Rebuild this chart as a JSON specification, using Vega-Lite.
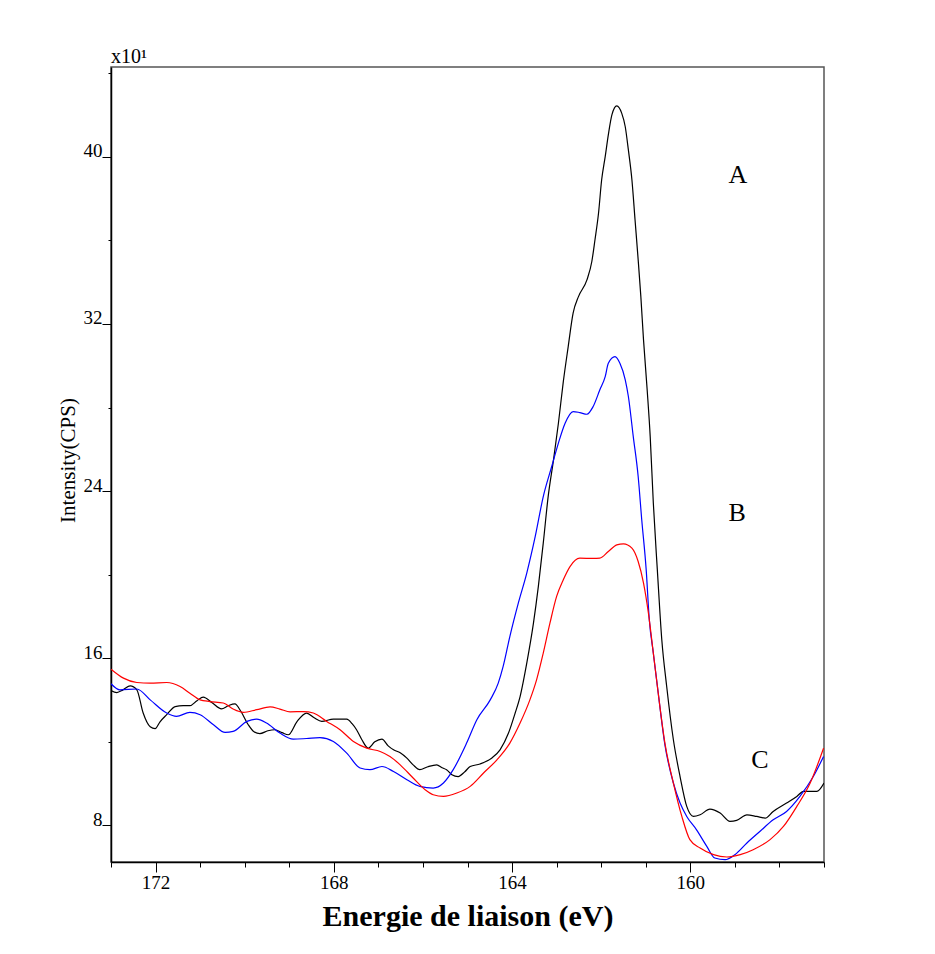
{
  "$schema": "https://vega.github.io/schema/vega-lite/v6.json",
  "autosize": {"type": "none"},
  "padding": {"left": 111, "top": 67, "right": 111, "bottom": 92},
  "width": 713,
  "height": 795,
  "background": "white",
  "title": {"text": "x10¹", "anchor": "start", "frame": "group", "font": "Liberation Serif", "fontSize": 20, "fontWeight": "normal", "color": "black", "offset": 1, "dy": 30, "baseline": "bottom"},
  "config": {
    "view": {"stroke": "#555555", "strokeWidth": 1.5},
    "axis": {"grid": false, "domainColor": "black", "domainWidth": 1.5, "tickColor": "black", "labelColor": "black", "titleColor": "black"}
  },
  "datasets": {
    "curves": [
      {"s": "A", "e": 173.00, "v": 14.46}, {"s": "A", "e": 172.87, "v": 14.36}, {"s": "A", "e": 172.73, "v": 14.49}, {"s": "A", "e": 172.57, "v": 14.68}, {"s": "A", "e": 172.42, "v": 14.49}, {"s": "A", "e": 172.28, "v": 13.39}, {"s": "A", "e": 172.12, "v": 12.72}, {"s": "A", "e": 172.01, "v": 12.63}, {"s": "A", "e": 171.90, "v": 12.96}, {"s": "A", "e": 171.75, "v": 13.30}, {"s": "A", "e": 171.56, "v": 13.69}, {"s": "A", "e": 171.38, "v": 13.73}, {"s": "A", "e": 171.23, "v": 13.73}, {"s": "A", "e": 171.07, "v": 13.97}, {"s": "A", "e": 170.93, "v": 14.14}, {"s": "A", "e": 170.73, "v": 13.87}, {"s": "A", "e": 170.52, "v": 13.58}, {"s": "A", "e": 170.37, "v": 13.73}, {"s": "A", "e": 170.22, "v": 13.82}, {"s": "A", "e": 170.08, "v": 13.44}, {"s": "A", "e": 169.92, "v": 12.82}, {"s": "A", "e": 169.79, "v": 12.48}, {"s": "A", "e": 169.66, "v": 12.39}, {"s": "A", "e": 169.48, "v": 12.53}, {"s": "A", "e": 169.32, "v": 12.58}, {"s": "A", "e": 169.16, "v": 12.44}, {"s": "A", "e": 169.02, "v": 12.34}, {"s": "A", "e": 168.83, "v": 12.96}, {"s": "A", "e": 168.61, "v": 13.38}, {"s": "A", "e": 168.44, "v": 13.15}, {"s": "A", "e": 168.27, "v": 12.98}, {"s": "A", "e": 168.01, "v": 13.09}, {"s": "A", "e": 167.71, "v": 13.09}, {"s": "A", "e": 167.59, "v": 12.87}, {"s": "A", "e": 167.49, "v": 12.58}, {"s": "A", "e": 167.37, "v": 12.10}, {"s": "A", "e": 167.23, "v": 11.70}, {"s": "A", "e": 167.08, "v": 12.00}, {"s": "A", "e": 166.92, "v": 12.13}, {"s": "A", "e": 166.78, "v": 11.81}, {"s": "A", "e": 166.66, "v": 11.62}, {"s": "A", "e": 166.51, "v": 11.48}, {"s": "A", "e": 166.36, "v": 11.22}, {"s": "A", "e": 166.22, "v": 10.90}, {"s": "A", "e": 166.07, "v": 10.67}, {"s": "A", "e": 165.89, "v": 10.81}, {"s": "A", "e": 165.69, "v": 10.90}, {"s": "A", "e": 165.57, "v": 10.76}, {"s": "A", "e": 165.47, "v": 10.67}, {"s": "A", "e": 165.35, "v": 10.43}, {"s": "A", "e": 165.21, "v": 10.34}, {"s": "A", "e": 165.06, "v": 10.57}, {"s": "A", "e": 164.94, "v": 10.82}, {"s": "A", "e": 164.72, "v": 10.94}, {"s": "A", "e": 164.46, "v": 11.22}, {"s": "A", "e": 164.27, "v": 11.62}, {"s": "A", "e": 164.08, "v": 12.42}, {"s": "A", "e": 163.93, "v": 13.38}, {"s": "A", "e": 163.82, "v": 14.17}, {"s": "A", "e": 163.67, "v": 15.77}, {"s": "A", "e": 163.52, "v": 17.68}, {"s": "A", "e": 163.41, "v": 19.44}, {"s": "A", "e": 163.30, "v": 21.51}, {"s": "A", "e": 163.19, "v": 23.74}, {"s": "A", "e": 163.07, "v": 25.50}, {"s": "A", "e": 162.96, "v": 27.25}, {"s": "A", "e": 162.85, "v": 29.24}, {"s": "A", "e": 162.74, "v": 30.92}, {"s": "A", "e": 162.63, "v": 32.52}, {"s": "A", "e": 162.51, "v": 33.31}, {"s": "A", "e": 162.32, "v": 34.11}, {"s": "A", "e": 162.21, "v": 34.99}, {"s": "A", "e": 162.14, "v": 36.02}, {"s": "A", "e": 162.06, "v": 37.30}, {"s": "A", "e": 161.99, "v": 38.89}, {"s": "A", "e": 161.91, "v": 40.01}, {"s": "A", "e": 161.84, "v": 41.05}, {"s": "A", "e": 161.76, "v": 42.01}, {"s": "A", "e": 161.65, "v": 42.44}, {"s": "A", "e": 161.54, "v": 42.09}, {"s": "A", "e": 161.46, "v": 41.44}, {"s": "A", "e": 161.39, "v": 40.33}, {"s": "A", "e": 161.31, "v": 38.89}, {"s": "A", "e": 161.24, "v": 36.98}, {"s": "A", "e": 161.17, "v": 35.07}, {"s": "A", "e": 161.11, "v": 33.31}, {"s": "A", "e": 161.05, "v": 31.24}, {"s": "A", "e": 160.97, "v": 28.90}, {"s": "A", "e": 160.90, "v": 26.61}, {"s": "A", "e": 160.83, "v": 23.43}, {"s": "A", "e": 160.74, "v": 20.23}, {"s": "A", "e": 160.64, "v": 16.89}, {"s": "A", "e": 160.53, "v": 14.65}, {"s": "A", "e": 160.38, "v": 12.10}, {"s": "A", "e": 160.23, "v": 10.34}, {"s": "A", "e": 160.08, "v": 8.91}, {"s": "A", "e": 159.93, "v": 8.43}, {"s": "A", "e": 159.78, "v": 8.51}, {"s": "A", "e": 159.56, "v": 8.78}, {"s": "A", "e": 159.33, "v": 8.59}, {"s": "A", "e": 159.11, "v": 8.19}, {"s": "A", "e": 158.96, "v": 8.24}, {"s": "A", "e": 158.73, "v": 8.51}, {"s": "A", "e": 158.51, "v": 8.43}, {"s": "A", "e": 158.32, "v": 8.35}, {"s": "A", "e": 158.14, "v": 8.67}, {"s": "A", "e": 157.84, "v": 9.07}, {"s": "A", "e": 157.61, "v": 9.39}, {"s": "A", "e": 157.46, "v": 9.63}, {"s": "A", "e": 157.16, "v": 9.63}, {"s": "A", "e": 157.00, "v": 10.03},
      {"s": "B", "e": 173.00, "v": 14.78}, {"s": "B", "e": 172.80, "v": 14.49}, {"s": "B", "e": 172.42, "v": 14.53}, {"s": "B", "e": 172.12, "v": 14.01}, {"s": "B", "e": 171.75, "v": 13.38}, {"s": "B", "e": 171.53, "v": 13.22}, {"s": "B", "e": 171.23, "v": 13.41}, {"s": "B", "e": 171.00, "v": 13.30}, {"s": "B", "e": 170.70, "v": 12.82}, {"s": "B", "e": 170.44, "v": 12.45}, {"s": "B", "e": 170.26, "v": 12.50}, {"s": "B", "e": 169.95, "v": 12.98}, {"s": "B", "e": 169.73, "v": 13.09}, {"s": "B", "e": 169.51, "v": 12.90}, {"s": "B", "e": 169.21, "v": 12.42}, {"s": "B", "e": 168.91, "v": 12.13}, {"s": "B", "e": 168.61, "v": 12.16}, {"s": "B", "e": 168.31, "v": 12.20}, {"s": "B", "e": 168.01, "v": 12.02}, {"s": "B", "e": 167.71, "v": 11.46}, {"s": "B", "e": 167.41, "v": 10.75}, {"s": "B", "e": 167.19, "v": 10.67}, {"s": "B", "e": 166.92, "v": 10.82}, {"s": "B", "e": 166.66, "v": 10.58}, {"s": "B", "e": 166.36, "v": 10.19}, {"s": "B", "e": 166.07, "v": 9.87}, {"s": "B", "e": 165.77, "v": 9.79}, {"s": "B", "e": 165.54, "v": 10.03}, {"s": "B", "e": 165.32, "v": 10.67}, {"s": "B", "e": 165.02, "v": 11.94}, {"s": "B", "e": 164.79, "v": 13.06}, {"s": "B", "e": 164.49, "v": 14.01}, {"s": "B", "e": 164.31, "v": 14.81}, {"s": "B", "e": 164.20, "v": 15.61}, {"s": "B", "e": 164.05, "v": 17.04}, {"s": "B", "e": 163.86, "v": 18.64}, {"s": "B", "e": 163.67, "v": 20.08}, {"s": "B", "e": 163.48, "v": 21.83}, {"s": "B", "e": 163.30, "v": 23.74}, {"s": "B", "e": 163.11, "v": 25.18}, {"s": "B", "e": 162.96, "v": 26.30}, {"s": "B", "e": 162.81, "v": 27.25}, {"s": "B", "e": 162.63, "v": 27.81}, {"s": "B", "e": 162.48, "v": 27.76}, {"s": "B", "e": 162.32, "v": 27.68}, {"s": "B", "e": 162.18, "v": 28.05}, {"s": "B", "e": 162.03, "v": 28.85}, {"s": "B", "e": 161.91, "v": 29.48}, {"s": "B", "e": 161.84, "v": 30.12}, {"s": "B", "e": 161.69, "v": 30.44}, {"s": "B", "e": 161.58, "v": 30.12}, {"s": "B", "e": 161.46, "v": 29.33}, {"s": "B", "e": 161.39, "v": 28.53}, {"s": "B", "e": 161.28, "v": 26.61}, {"s": "B", "e": 161.17, "v": 24.70}, {"s": "B", "e": 161.09, "v": 22.63}, {"s": "B", "e": 160.99, "v": 20.23}, {"s": "B", "e": 160.92, "v": 17.84}, {"s": "B", "e": 160.83, "v": 16.25}, {"s": "B", "e": 160.72, "v": 14.33}, {"s": "B", "e": 160.57, "v": 11.86}, {"s": "B", "e": 160.38, "v": 10.03}, {"s": "B", "e": 160.23, "v": 9.07}, {"s": "B", "e": 160.08, "v": 8.43}, {"s": "B", "e": 159.86, "v": 7.79}, {"s": "B", "e": 159.63, "v": 7.00}, {"s": "B", "e": 159.45, "v": 6.44}, {"s": "B", "e": 159.22, "v": 6.36}, {"s": "B", "e": 159.00, "v": 6.60}, {"s": "B", "e": 158.73, "v": 7.16}, {"s": "B", "e": 158.44, "v": 7.71}, {"s": "B", "e": 158.14, "v": 8.27}, {"s": "B", "e": 157.84, "v": 8.67}, {"s": "B", "e": 157.54, "v": 9.39}, {"s": "B", "e": 157.24, "v": 10.34}, {"s": "B", "e": 157.01, "v": 11.30},
      {"s": "C", "e": 173.00, "v": 15.48}, {"s": "C", "e": 172.72, "v": 15.05}, {"s": "C", "e": 172.42, "v": 14.84}, {"s": "C", "e": 172.12, "v": 14.81}, {"s": "C", "e": 171.75, "v": 14.84}, {"s": "C", "e": 171.45, "v": 14.65}, {"s": "C", "e": 171.23, "v": 14.33}, {"s": "C", "e": 171.00, "v": 14.01}, {"s": "C", "e": 170.78, "v": 13.93}, {"s": "C", "e": 170.48, "v": 13.86}, {"s": "C", "e": 170.26, "v": 13.57}, {"s": "C", "e": 170.03, "v": 13.41}, {"s": "C", "e": 169.73, "v": 13.54}, {"s": "C", "e": 169.43, "v": 13.67}, {"s": "C", "e": 169.21, "v": 13.57}, {"s": "C", "e": 168.98, "v": 13.44}, {"s": "C", "e": 168.68, "v": 13.45}, {"s": "C", "e": 168.46, "v": 13.38}, {"s": "C", "e": 168.16, "v": 12.98}, {"s": "C", "e": 167.86, "v": 12.58}, {"s": "C", "e": 167.56, "v": 12.02}, {"s": "C", "e": 167.26, "v": 11.70}, {"s": "C", "e": 166.96, "v": 11.54}, {"s": "C", "e": 166.74, "v": 11.30}, {"s": "C", "e": 166.51, "v": 10.90}, {"s": "C", "e": 166.22, "v": 10.27}, {"s": "C", "e": 165.95, "v": 9.71}, {"s": "C", "e": 165.77, "v": 9.47}, {"s": "C", "e": 165.54, "v": 9.39}, {"s": "C", "e": 165.24, "v": 9.55}, {"s": "C", "e": 164.94, "v": 9.87}, {"s": "C", "e": 164.64, "v": 10.51}, {"s": "C", "e": 164.34, "v": 11.14}, {"s": "C", "e": 164.05, "v": 11.94}, {"s": "C", "e": 163.82, "v": 12.90}, {"s": "C", "e": 163.60, "v": 14.01}, {"s": "C", "e": 163.45, "v": 14.97}, {"s": "C", "e": 163.30, "v": 16.25}, {"s": "C", "e": 163.15, "v": 17.68}, {"s": "C", "e": 163.00, "v": 18.96}, {"s": "C", "e": 162.85, "v": 19.76}, {"s": "C", "e": 162.70, "v": 20.39}, {"s": "C", "e": 162.48, "v": 20.79}, {"s": "C", "e": 162.18, "v": 20.78}, {"s": "C", "e": 162.03, "v": 20.79}, {"s": "C", "e": 161.84, "v": 21.11}, {"s": "C", "e": 161.65, "v": 21.43}, {"s": "C", "e": 161.50, "v": 21.48}, {"s": "C", "e": 161.31, "v": 21.27}, {"s": "C", "e": 161.17, "v": 20.63}, {"s": "C", "e": 161.05, "v": 19.60}, {"s": "C", "e": 160.94, "v": 18.16}, {"s": "C", "e": 160.83, "v": 16.25}, {"s": "C", "e": 160.72, "v": 14.33}, {"s": "C", "e": 160.57, "v": 11.94}, {"s": "C", "e": 160.38, "v": 10.03}, {"s": "C", "e": 160.19, "v": 8.43}, {"s": "C", "e": 160.01, "v": 7.32}, {"s": "C", "e": 159.78, "v": 6.92}, {"s": "C", "e": 159.48, "v": 6.60}, {"s": "C", "e": 159.18, "v": 6.49}, {"s": "C", "e": 158.88, "v": 6.60}, {"s": "C", "e": 158.59, "v": 6.84}, {"s": "C", "e": 158.21, "v": 7.32}, {"s": "C", "e": 157.91, "v": 7.95}, {"s": "C", "e": 157.61, "v": 8.91}, {"s": "C", "e": 157.31, "v": 10.03}, {"s": "C", "e": 157.01, "v": 11.70}
    ],
    "labels": [
      {"lab": "A", "e": 158.93, "v": 39.13},
      {"lab": "B", "e": 158.95, "v": 22.96},
      {"lab": "C", "e": 158.44, "v": 11.14}
    ]
  },
  "layer": [
    {
      "data": {"name": "curves"},
      "mark": {"type": "line", "strokeWidth": 1.2, "interpolate": "monotone", "clip": true},
      "encoding": {
        "x": {
          "field": "e", "type": "quantitative",
          "scale": {"domain": [157, 173], "reverse": true, "nice": false, "zero": false},
          "axis": {
            "values": [157, 158, 159, 160, 161, 162, 163, 164, 165, 166, 167, 168, 169, 170, 171, 172, 173],
            "labelExpr": "datum.value % 4 === 0 ? datum.label : ''",
            "tickSize": {"condition": {"test": "datum.value % 4 === 0", "value": 10}, "value": 5},
            "labelFont": "Liberation Serif", "labelFontSize": 19, "labelPadding": 1,
            "labelOverlap": false,
            "title": "Energie de liaison (eV)",
            "titleFont": "Liberation Serif", "titleFontSize": 30, "titleFontWeight": "bold",
            "titlePadding": 9
          }
        },
        "y": {
          "field": "v", "type": "quantitative",
          "scale": {"domain": [6.25, 44.3], "nice": false, "zero": false},
          "axis": {
            "values": [8, 12, 16, 20, 24, 28, 32, 36, 40, 44],
            "labelExpr": "datum.value % 8 === 0 ? datum.label : ''",
            "tickSize": {"condition": {"test": "datum.value % 8 === 0", "value": 9}, "value": 3},
            "labelFont": "Liberation Serif", "labelFontSize": 19, "labelPadding": 0,
            "labelBaseline": "alphabetic", "labelOverlap": false,
            "title": "Intensity(CPS)",
            "titleFont": "Liberation Serif", "titleFontSize": 21, "titleFontWeight": "normal",
            "titleX": -33, "titleY": 393, "titleBaseline": "bottom", "titleAlign": "center"
          }
        },
        "color": {
          "field": "s", "type": "nominal",
          "scale": {"domain": ["A", "B", "C"], "range": ["#000000", "#0000ff", "#ff0000"]},
          "legend": null
        },
        "order": {"field": "e", "type": "quantitative"}
      }
    },
    {
      "data": {"name": "labels"},
      "mark": {"type": "text", "font": "Liberation Serif", "fontSize": 26, "color": "black", "align": "center", "baseline": "middle"},
      "encoding": {
        "x": {"field": "e", "type": "quantitative"},
        "y": {"field": "v", "type": "quantitative"},
        "text": {"field": "lab"}
      }
    }
  ]
}
